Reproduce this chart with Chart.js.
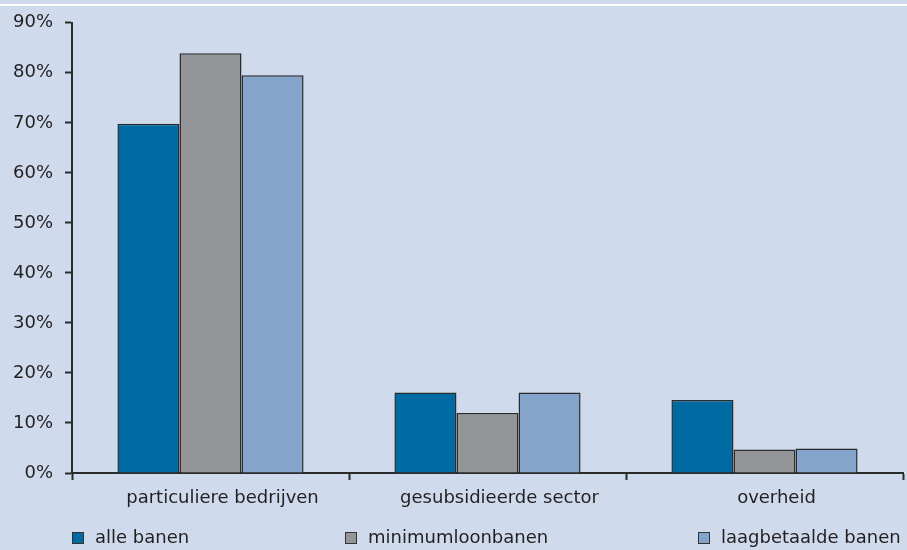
<!DOCTYPE html>
<html>
<head>
<meta charset="utf-8">
<script src="https://cdn.jsdelivr.net/npm/chart.js@4"></script>
<style>
  html, body { margin: 0; padding: 0; background: #cfdbec; }
  #wrap { width: 907px; height: 550px; }
</style>
</head>
<body>
<div id="wrap"><canvas id="chart" width="907" height="550"></canvas></div>
<script>
const categories = ["particuliere bedrijven", "gesubsidieerde sector", "overheid"];
const seriesNames = ["alle banen", "minimumloonbanen", "laagbetaalde banen"];
const alleBanen = [69.8, 16.1, 14.6];
const minimumloonBanen = [83.9, 12.0, 4.7];
const laagbetaaldeBanen = [79.5, 16.1, 4.9];
const yTicks = [0, 10, 20, 30, 40, 50, 60, 70, 80, 90];

const colors = ["#006aa3", "#949598", "#85a4cb"];
const textColor = "#231f20";
const fontFamily = "'DejaVu Sans', sans-serif";

// background + white line at the top
const backdrop = {
    id: "backdrop",
    beforeDraw(chart) {
        const ctx = chart.ctx;
        ctx.save();
        ctx.fillStyle = "#cfdbec";
        ctx.fillRect(0, 0, chart.width, chart.height);
        ctx.fillStyle = "#ffffff";
        ctx.fillRect(0, 4, chart.width, 2);
        ctx.restore();
    }
};

// legend spread over the bottom row
const bottomLegend = {
    id: "bottomLegend",
    afterDraw(chart) {
        const ctx = chart.ctx;
        const boxX = [72, 345, 698];
        const y = 538;
        ctx.save();
        ctx.font = "18px " + fontFamily;
        ctx.textBaseline = "middle";
        chart.data.datasets.forEach((ds, i) => {
            ctx.fillStyle = ds.backgroundColor;
            ctx.fillRect(boxX[i] + 0.5, y - 5.5, 11, 11);
            ctx.strokeStyle = "#333333";
            ctx.lineWidth = 1;
            ctx.strokeRect(boxX[i] + 0.5, y - 5.5, 11, 11);
            ctx.fillStyle = textColor;
            ctx.fillText(ds.label, boxX[i] + 23, y);
        });
        ctx.restore();
    }
};

const ctx = document.getElementById("chart").getContext("2d");

new Chart(ctx, {
    type: "bar",
    data: {
        labels: categories,
        datasets: [
            { label: seriesNames[0], data: alleBanen, backgroundColor: colors[0] },
            { label: seriesNames[1], data: minimumloonBanen, backgroundColor: colors[1] },
            { label: seriesNames[2], data: laagbetaaldeBanen, backgroundColor: colors[2] }
        ].map(d => Object.assign(d, {
            borderColor: "#2b2b2b",
            borderWidth: 1.5,
            borderSkipped: "bottom",
            barPercentage: 1.0,
            categoryPercentage: 0.672
        }))
    },
    options: {
        responsive: false,
        animation: false,
        layout: { padding: { top: 21, right: 4, left: 0, bottom: 0 } },
        plugins: {
            legend: { display: false },
            tooltip: { enabled: false }
        },
        scales: {
            x: {
                offset: true,
                grid: {
                    offset: true,
                    drawOnChartArea: false,
                    drawTicks: true,
                    tickLength: 7,
                    tickColor: "#2b2b2b",
                    tickWidth: 2
                },
                border: { color: "#2b2b2b", width: 2 },
                ticks: {
                    color: textColor,
                    font: { family: fontFamily, size: 18 },
                    padding: 8,
                    labelOffset: 12,
                    maxRotation: 0
                },
                afterFit(axis) { axis.height = 77; }
            },
            y: {
                min: 0,
                max: 90,
                afterBuildTicks(axis) { axis.ticks = yTicks.map(v => ({ value: v })); },
                grid: {
                    drawOnChartArea: false,
                    drawTicks: true,
                    tickLength: 7,
                    tickColor: "#2b2b2b",
                    tickWidth: 2
                },
                border: { color: "#2b2b2b", width: 2 },
                ticks: {
                    color: textColor,
                    font: { family: fontFamily, size: 18 },
                    padding: 12,
                    callback: v => v + "%"
                },
                afterFit(axis) { axis.width = 72; }
            }
        }
    },
    plugins: [backdrop, bottomLegend]
});
</script>
</body>
</html>
